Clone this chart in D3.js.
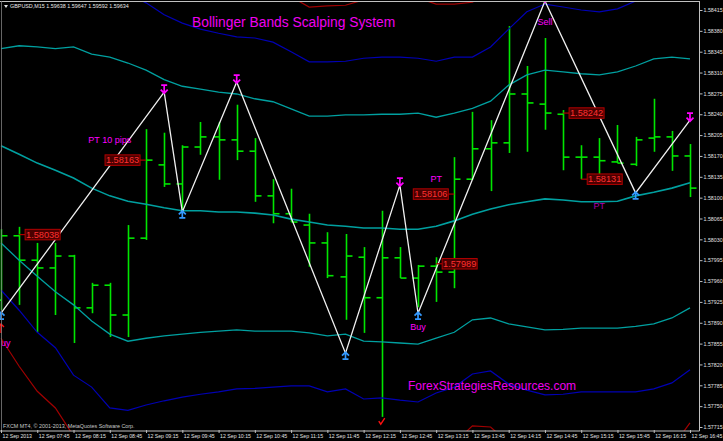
<!DOCTYPE html>
<html><head><meta charset="utf-8">
<script src="https://cdn.jsdelivr.net/npm/d3@7"></script>
<style>html,body{margin:0;padding:0;background:#000;overflow:hidden}</style>
</head><body><svg id="c" width="723" height="441"></svg>
<script>
// ---- DATA ----
const times = ["07:15","07:30","07:45","08:00","08:15","08:30","08:45","09:00","09:15","09:30","09:45","10:00","10:15","10:30","10:45","11:00","11:15","11:30","11:45","12:00","12:15","12:30","12:45","13:00","13:15","13:30","13:45","14:00","14:15","14:30","14:45","15:00","15:15","15:30","15:45","16:00","16:15","16:30","16:45"];
const openP  = [1.57928,1.58036,1.57995,1.57982,1.58002,1.57915,1.57953,1.57903,1.58032,1.58155,1.58123,1.58185,1.58202,1.58197,1.58178,1.58103,1.58073,1.58054,1.58024,1.57967,1.58000,1.57932,1.57999,1.57965,1.57985,1.57975,1.58131,1.58182,1.58192,1.58274,1.58257,1.58240,1.58168,1.58168,1.58160,1.58156,1.58200,1.58202,1.58170];
const highP  = [1.58047,1.58051,1.58024,1.58024,1.58004,1.57957,1.57957,1.58054,1.58215,1.58209,1.58188,1.58227,1.58227,1.58256,1.58200,1.58131,1.58115,1.58073,1.58042,1.58039,1.58017,1.58078,1.58017,1.57987,1.58000,1.58168,1.58244,1.58230,1.58388,1.58321,1.58368,1.58247,1.58188,1.58200,1.58222,1.58202,1.58266,1.58212,1.58190];
const lowP   = [1.57911,1.57920,1.57874,1.57903,1.57856,1.57906,1.57866,1.57866,1.58029,1.58118,1.58079,1.58172,1.58130,1.58163,1.58093,1.58057,1.58059,1.57984,1.57965,1.57895,1.57873,1.57732,1.57965,1.57916,1.57925,1.57948,1.58130,1.58111,1.58175,1.58177,1.58214,1.58146,1.58131,1.58133,1.58158,1.58153,1.58177,1.58145,1.58101];
const closeP = [1.58036,1.57995,1.57982,1.58002,1.57915,1.57953,1.57903,1.58032,1.58163,1.58123,1.58185,1.58202,1.58197,1.58178,1.58103,1.58073,1.58059,1.58024,1.57969,1.58002,1.57932,1.57999,1.57965,1.57985,1.57975,1.58131,1.58182,1.58192,1.58274,1.58259,1.58242,1.58168,1.58168,1.58162,1.58158,1.58197,1.58202,1.58170,1.58116];

const bbMid    = [1.58187,1.58173,1.58158,1.58146,1.58133,1.58116,1.58103,1.58094,1.58089,1.58083,1.58078,1.58078,1.58076,1.58076,1.58074,1.58071,1.58064,1.58059,1.58054,1.58052,1.58049,1.58049,1.58047,1.58047,1.58052,1.58061,1.58072,1.58081,1.58088,1.58093,1.58098,1.58096,1.58093,1.58093,1.58094,1.58103,1.58109,1.58116,1.58125];
const bbUpper2 = [1.58350,1.58355,1.58353,1.58350,1.58353,1.58341,1.58336,1.58326,1.58314,1.58298,1.58287,1.58282,1.58277,1.58274,1.58266,1.58261,1.58249,1.58237,1.58237,1.58239,1.58239,1.58240,1.58240,1.58242,1.58235,1.58242,1.58250,1.58262,1.58289,1.58306,1.58314,1.58311,1.58308,1.58306,1.58311,1.58321,1.58333,1.58336,1.58333];
const bbLower2 = [1.58024,1.57995,1.57968,1.57942,1.57920,1.57893,1.57871,1.57859,1.57864,1.57868,1.57871,1.57874,1.57876,1.57878,1.57876,1.57876,1.57876,1.57873,1.57868,1.57871,1.57859,1.57858,1.57856,1.57854,1.57864,1.57874,1.57895,1.57898,1.57888,1.57883,1.57878,1.57879,1.57881,1.57881,1.57881,1.57884,1.57888,1.57898,1.57915];
const bbUpper3 = [1.58432,1.58445,1.58450,1.58452,1.58462,1.58454,1.58452,1.58442,1.58427,1.58407,1.58393,1.58383,1.58376,1.58370,1.58368,1.58361,1.58345,1.58328,1.58328,1.58329,1.58334,1.58336,1.58336,1.58334,1.58329,1.58336,1.58336,1.58353,1.58383,1.58412,1.58425,1.58420,1.58415,1.58412,1.58417,1.58430,1.58445,1.58447,1.58437];
const bbLower3 = [1.57945,1.57911,1.57874,1.57848,1.57802,1.57782,1.57747,1.57743,1.57752,1.57759,1.57765,1.57770,1.57774,1.57779,1.57780,1.57782,1.57784,1.57784,1.57774,1.57779,1.57762,1.57764,1.57760,1.57757,1.57772,1.57782,1.57804,1.57809,1.57787,1.57777,1.57769,1.57770,1.57774,1.57774,1.57774,1.57774,1.57779,1.57789,1.57811];
const bbUpper4 = [1.58512,1.58536,1.58548,1.58553,1.58573,1.58566,1.58569,1.58558,1.58539,1.58512,1.58497,1.58487,1.58479,1.58472,1.58457,1.58450,1.58437,1.58420,1.58422,1.58423,1.58432,1.58439,1.58439,1.58435,1.58425,1.58425,1.58428,1.58449,1.58491,1.58519,1.58531,1.58526,1.58522,1.58519,1.58528,1.58539,1.58556,1.58556,1.58541];
const bbLower4 = [1.57864,1.57817,1.57775,1.57747,1.57700,1.57670,1.57639,1.57624,1.57639,1.57653,1.57665,1.57671,1.57676,1.57680,1.57678,1.57681,1.57688,1.57686,1.57681,1.57690,1.57670,1.57666,1.57665,1.57661,1.57676,1.57688,1.57717,1.57715,1.57688,1.57673,1.57658,1.57663,1.57670,1.57670,1.57668,1.57666,1.57666,1.57680,1.57722];

const zzIndex = [0,9,10,13,19,22,23,30,35,38];
const zzPrice = [1.57906,1.58277,1.58076,1.58294,1.57839,1.58121,1.57906,1.58430,1.58108,1.58230];
const zzType  = ["low","high","low","high","low","high","low","high","low","high"];

const priceLabelValue = ["1.58038","1.58163","1.58106","1.57989","1.58242","1.58131"];
const priceLabelBar   = [1,8,25,24,31,32];
const priceLabelSide  = ["right","left","left","right","right","right"];

const noteText  = ["PT 10 pips","Sell","PT","Buy","PT","uy"];
const noteBar   = [6,30,24,23,33,0];
const notePrice = [1.58191,1.58390,1.58126,1.57878,1.58081,1.57851];

const yTickLabels = ["1.58415","1.58380","1.58345","1.58310","1.58275","1.58240","1.58205","1.58170","1.58135","1.58100","1.58065","1.58030","1.57995","1.57960","1.57925","1.57890","1.57855","1.57820","1.57785","1.57750","1.57715"];
const dateLabel = "12 Sep";
const yearLabel = "2013";

// ---- DRAW ----
const W = 723, H = 441;
const svg = d3.select("#c");
svg.append("rect").attr("width", W).attr("height", H).attr("fill", "#000");

const x = d3.scaleLinear().domain([0, times.length - 1]).range([1, 690]);
const y = d3.scaleLinear().domain([1.57715, 1.58415]).range([427, 10]);

svg.append("clipPath").attr("id", "pc").append("rect")
  .attr("x", 0).attr("y", 2).attr("width", 699).attr("height", 429);
const plot = svg.append("g").attr("clip-path", "url(#pc)");

// OHLC bars
const barColor = "#00e600";
const bars = plot.append("g").attr("stroke", barColor).attr("stroke-width", 1.6);
times.forEach((t, i) => {
  const xi = Math.round(x(i)) + 0.5;
  bars.append("line").attr("x1", xi).attr("x2", xi).attr("y1", y(highP[i])).attr("y2", y(lowP[i]));
  bars.append("line").attr("x1", xi - 6).attr("x2", xi).attr("y1", y(openP[i])).attr("y2", y(openP[i]));
  bars.append("line").attr("x1", xi).attr("x2", xi + 6).attr("y1", y(closeP[i])).attr("y2", y(closeP[i]));
});

// Bollinger bands
const lineGen = d3.line().x((d, i) => x(i)).y(d => y(d));
const bands = [
  [bbUpper4, "#a00000", 1.2], [bbLower4, "#a00000", 1.2],
  [bbUpper3, "#0000b4", 1.2], [bbLower3, "#0000b4", 1.2],
  [bbUpper2, "#00a0a0", 1.3], [bbLower2, "#00a0a0", 1.3],
  [bbMid, "#00a0a0", 1.6]
];
bands.forEach(([arr, col, w]) => {
  plot.append("path").attr("d", lineGen(arr)).attr("fill", "none")
    .attr("stroke", col).attr("stroke-width", w);
});

// Zigzag
const zz = zzIndex.map((b, k) => ({b, p: zzPrice[k], t: zzType[k]}));
plot.append("path")
  .attr("d", d3.line().x(d => x(d.b)).y(d => y(d.p))(zz))
  .attr("fill", "none").attr("stroke", "#f0f0f0").attr("stroke-width", 1.3);

const downArrow = "M-3,-7H3M0,-7V1M-3.5,-2.5L0,1L3.5,-2.5";
const upArrow = "M-3,6H3M0,6V-1M-3.5,2.5L0,-1L3.5,2.5";
zz.forEach(d => {
  plot.append("path")
    .attr("transform", `translate(${x(d.b)},${y(d.p)})`)
    .attr("d", d.t === "high" ? downArrow : upArrow)
    .attr("fill", "none")
    .attr("stroke", d.t === "high" ? "#ff00ff" : "#3399ff")
    .attr("stroke-width", 1.7);
});

// red marks (check under spike, arrow at left)
const markBar = [21, 0];
const markPrice = [1.57723, 1.57881];
plot.append("path").attr("transform", `translate(${x(markBar[0])},${y(markPrice[0])})`)
  .attr("d", "M-3,-1L-1,2L3,-4").attr("fill", "none").attr("stroke", "#ff1010").attr("stroke-width", 1.4);
plot.append("path").attr("transform", `translate(${x(markBar[1])},${y(markPrice[1])})`)
  .attr("d", "M0,5V-4M-3,-1L0,-4L3,-1").attr("fill", "none").attr("stroke", "#ff1010").attr("stroke-width", 1.4);

// annotations
noteText.forEach((t, k) => {
  const col = (k === 4) ? "#b000b0" : "#ff00ff";
  plot.append("text")
    .attr("x", k === 5 ? x(noteBar[k]) : x(noteBar[k]))
    .attr("y", y(notePrice[k]))
    .attr("text-anchor", k === 5 ? "start" : "middle")
    .attr("font-family", "Liberation Sans, Arial, sans-serif")
    .attr("font-size", 9).attr("fill", col).text(t);
});

// price label boxes
priceLabelValue.forEach((v, k) => {
  const bx = x(priceLabelBar[k]);
  const by = y(+v);
  const bw = 35, bh = 10.5;
  const left = priceLabelSide[k] === "right" ? bx + 6 : bx - 6 - bw;
  const g = plot.append("g");
  g.append("line")
    .attr("x1", bx).attr("x2", priceLabelSide[k] === "right" ? left : left + bw)
    .attr("y1", by).attr("y2", by).attr("stroke", "#b00000").attr("stroke-width", 1.2);
  g.append("rect").attr("x", left).attr("y", by - bh / 2).attr("width", bw).attr("height", bh)
    .attr("fill", "#4a0000").attr("stroke", "#b00000").attr("stroke-width", 1);
  g.append("text").attr("x", left + bw / 2).attr("y", by + 3.3)
    .attr("text-anchor", "middle")
    .attr("font-family", "Liberation Sans, Arial, sans-serif")
    .attr("font-size", 9.2).attr("fill", "#ff3030").text(v);
});

// frame
svg.append("line").attr("x1", 0).attr("x2", 699.5).attr("y1", 1.5).attr("y2", 1.5).attr("stroke", "#c0c0c0");
svg.append("line").attr("x1", 1.5).attr("x2", 1.5).attr("y1", 1).attr("y2", 431).attr("stroke", "#808080").attr("stroke-width", 0.8);

// Y axis (right)
const yAxis = d3.axisRight(y).tickValues(yTickLabels.map(Number)).tickSize(3).tickFormat((d, i) => yTickLabels[i]);
const gy = svg.append("g").attr("transform", "translate(699.5,0)").call(yAxis);
gy.select(".domain").attr("stroke", "#c0c0c0").attr("d", "M0,1V431");
gy.selectAll(".tick line").attr("stroke", "#c0c0c0");
gy.selectAll(".tick text").attr("fill", "#e0e0e0").attr("x", 4)
  .attr("font-family", "Liberation Sans, Arial, sans-serif").attr("font-size", 5.3);

// X axis (bottom)
const xTicks = times.map((t, i) => i).filter(i => i % 2 === 0);
const xAxis = d3.axisBottom(x).tickValues(xTicks).tickSize(3)
  .tickFormat(i => i === 0 ? dateLabel + " " + yearLabel : dateLabel + " " + times[i]);
const gx = svg.append("g").attr("transform", "translate(0,431)").call(xAxis);
gx.select(".domain").attr("stroke", "#c0c0c0").attr("d", "M0,0H699.5");
gx.selectAll(".tick line").attr("stroke", "#c0c0c0").attr("y1", -1).attr("y2", 2);
gx.selectAll(".tick text").attr("fill", "#e0e0e0").attr("text-anchor", "start")
  .attr("x", 1).attr("y", 3).attr("dy", "0.71em")
  .attr("font-family", "Liberation Sans, Arial, sans-serif").attr("font-size", 5.2);

// header
svg.append("path").attr("d", "M4,5H8L6,8Z").attr("fill", "#e0e0e0");
svg.append("text").attr("x", 10).attr("y", 7.8)
  .attr("font-family", "Liberation Sans, Arial, sans-serif").attr("font-size", 5.4)
  .attr("fill", "#e8e8e8").text("GBPUSD,M15  1.59638 1.59647 1.59592 1.59634");

// title & site
svg.append("text").attr("x", 192).attr("y", 27)
  .attr("font-family", "Liberation Sans, Arial, sans-serif").attr("font-size", 13.8)
  .attr("fill", "#f000f0").text("Bollinger Bands Scalping System");
svg.append("text").attr("x", 408).attr("y", 389.5)
  .attr("font-family", "Liberation Sans, Arial, sans-serif").attr("font-size", 12)
  .attr("fill", "#f000f0").text("ForexStrategiesResources.com");
svg.append("text").attr("x", 3).attr("y", 428)
  .attr("font-family", "Liberation Sans, Arial, sans-serif").attr("font-size", 5.4)
  .attr("fill", "#c8c8c8").text("FXCM MT4, © 2001-2013, MetaQuotes Software Corp.");
</script>
</body></html>
